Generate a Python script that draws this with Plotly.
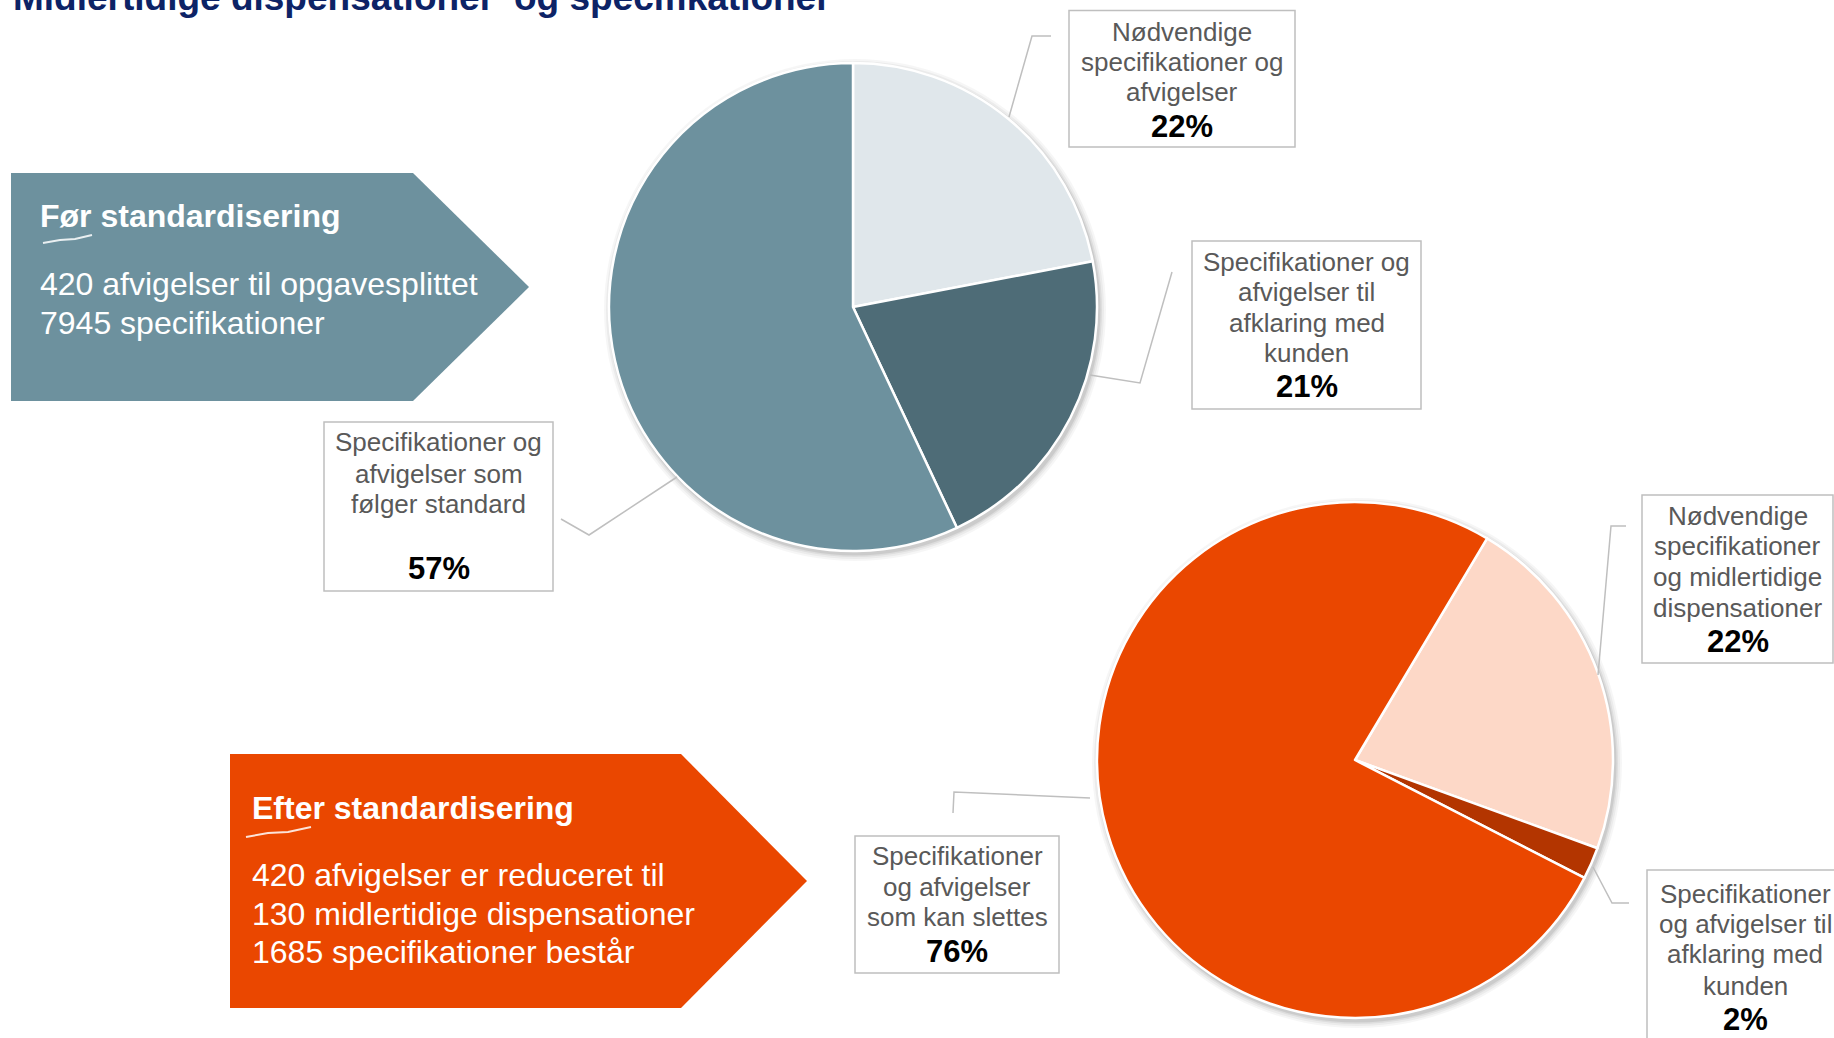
import plotly.graph_objects as go

W, H = 1834, 1038

# ---------------- data ----------------
title_text = "Midlertidige dispensationer\u2019 og specifikationer"

before_labels = ["Nødvendige specifikationer og afvigelser",
                 "Specifikationer og afvigelser til afklaring med kunden",
                 "Specifikationer og afvigelser som følger standard"]
before_values = [22, 21, 57]
before_colors = ["#E0E7EB", "#4E6C77", "#6D919E"]

after_labels = ["Nødvendige specifikationer og midlertidige dispensationer",
                "Specifikationer og afvigelser til afklaring med kunden",
                "Specifikationer og afvigelser som kan slettes"]
after_values = [22, 2, 76]
after_colors = ["#FDD8C7", "#B33500", "#EA4700"]

before_box_title = "Før standardisering"
before_box_lines = ["420 afvigelser til opgavesplittet", "7945 specifikationer"]
after_box_title = "Efter standardisering"
after_box_lines = ["420 afvigelser er reduceret til",
                   "130 midlertidige dispensationer",
                   "1685 specifikationer består"]

# label text lines (per slice)
before_label_lines = [["Nødvendige", "specifikationer og", "afvigelser"],
                      ["Specifikationer og", "afvigelser til", "afklaring med", "kunden"],
                      ["Specifikationer og", "afvigelser som", "følger standard"]]
after_label_lines = [["Nødvendige", "specifikationer", "og midlertidige", "dispensationer"],
                     ["Specifikationer", "og afvigelser til", "afklaring med", "kunden"],
                     ["Specifikationer", "og afvigelser", "som kan slettes"]]

FONT = "Liberation Sans, Arial, sans-serif"


def X(px):
    return px / W


def Y(py):
    return 1 - py / H


fig = go.Figure()
shapes = []
annotations = []

# ---------------- pies ----------------
pies = [
    dict(cx=853, cy=307, r=244, values=before_values, labels=before_labels,
         colors=before_colors, rotation=0),
    dict(cx=1355, cy=760, r=258, values=after_values, labels=after_labels,
         colors=after_colors, rotation=30.8),
]

for p in pies:
    # soft shadow
    for k, op in [(7, 0.035), (5, 0.045), (3, 0.06), (1.5, 0.08)]:
        shapes.append(dict(type="circle", xref="paper", yref="paper", layer="below",
                           x0=X(p["cx"] + 2 - p["r"] - k), x1=X(p["cx"] + 2 + p["r"] + k),
                           y0=Y(p["cy"] + 3 + p["r"] + k), y1=Y(p["cy"] + 3 - p["r"] - k),
                           fillcolor=f"rgba(0,0,0,{op})", line=dict(width=0)))
    fig.add_trace(go.Pie(
        values=p["values"], labels=p["labels"], sort=False, direction="clockwise",
        rotation=p["rotation"], textinfo="none", hoverinfo="label+percent",
        marker=dict(colors=p["colors"], line=dict(color="white", width=2.5)),
        domain=dict(x=[X(p["cx"] - p["r"]), X(p["cx"] + p["r"])],
                    y=[Y(p["cy"] + p["r"]), Y(p["cy"] - p["r"])]),
        showlegend=False,
    ))

# ---------------- arrow boxes ----------------
def arrow(x0, y0, xr, xt, y1, color):
    ym = (y0 + y1) / 2
    path = (f"M {X(x0)} {Y(y0)} L {X(xr)} {Y(y0)} L {X(xt)} {Y(ym)} "
            f"L {X(xr)} {Y(y1)} L {X(x0)} {Y(y1)} Z")
    shapes.append(dict(type="path", xref="paper", yref="paper", path=path,
                       fillcolor=color, line=dict(width=0), layer="below"))


arrow(11, 173, 413, 529, 401, before_colors[2])
arrow(230, 754, 681, 807, 1008, after_colors[2])


def text(x, y, s, size, color, bold=False, xanchor="center"):
    annotations.append(dict(xref="paper", yref="paper", x=X(x), y=Y(y),
                            text=f"<b>{s}</b>" if bold else s, showarrow=False,
                            xanchor=xanchor, yanchor="middle",
                            font=dict(family=FONT, size=size, color=color)))


text(38, 216, before_box_title, 32, "white", bold=True, xanchor="left")
for yy, s in zip([284, 323], before_box_lines):
    text(38, yy, s, 32, "white", xanchor="left")
text(250, 808, after_box_title, 32, "white", bold=True, xanchor="left")
for yy, s in zip([875, 913.5, 952], after_box_lines):
    text(250, yy, s, 32, "white", xanchor="left")

# spell-check squiggles
for pts in [[(43, 243), (60, 240), (75, 239), (92, 235)],
            [(246, 837), (268, 833), (288, 832), (311, 827)]]:
    path = "M " + " L ".join(f"{X(a)} {Y(b)}" for a, b in pts)
    shapes.append(dict(type="path", xref="paper", yref="paper", path=path,
                       line=dict(color="rgba(255,255,255,0.85)", width=2)))

# ---------------- title ----------------
text(11, -3, title_text, 37, "#0D2366", bold=True, xanchor="left")

# ---------------- label boxes ----------------
boxes = [
    # (rect, center x, line ys, pct y, leader points, lines, value)
    ((1069, 10.5, 1295, 147), 1182, [31.6, 62, 92.4], 126.3,
     [(1051, 36), (1032, 36), (1009, 117)], before_label_lines[0], before_values[0]),
    ((1192, 241, 1421, 409), 1306.5, [262, 292, 323, 353], 387,
     [(1172, 272), (1140, 383), (1090, 375)], before_label_lines[1], before_values[1]),
    ((324, 422, 553, 591), 438.5, [442, 474, 504], 568,
     [(561, 519), (589, 535), (677, 477)], before_label_lines[2], before_values[2]),
    ((1642, 495, 1833, 663), 1737.5, [516, 546, 577, 608], 641,
     [(1626, 526), (1611, 526), (1598, 675)], after_label_lines[0], after_values[0]),
    ((1647, 870, 1860, 1060), 1745, [893.6, 924, 954, 986], 1019,
     [(1629, 903), (1612, 903), (1593, 867)], after_label_lines[1], after_values[1]),
    ((855, 836, 1059, 973), 957, [856, 886.6, 917], 951,
     [(953, 813), (954, 792), (1090, 798)], after_label_lines[2], after_values[2]),
]

for rect, cx, ys, py, leader, lines, val in boxes:
    x0, y0, x1, y1 = rect
    shapes.append(dict(type="rect", xref="paper", yref="paper",
                       x0=X(x0), x1=X(x1), y0=Y(y1), y1=Y(y0),
                       fillcolor="white", line=dict(color="#BFBFBF", width=1.5)))
    path = "M " + " L ".join(f"{X(a)} {Y(b)}" for a, b in leader)
    shapes.append(dict(type="path", xref="paper", yref="paper", path=path,
                       line=dict(color="#BFBFBF", width=1.5)))
    for yy, s in zip(ys, lines):
        text(cx, yy, s, 26, "#595959")
    text(cx, py, f"{val}%", 31, "#000000", bold=True)

fig.update_layout(
    width=W, height=H, margin=dict(l=0, r=0, t=0, b=0),
    paper_bgcolor="white", plot_bgcolor="white",
    shapes=shapes, annotations=annotations,
    xaxis=dict(visible=False), yaxis=dict(visible=False),
)

fig.write_html("out.html", config={"displayModeBar": False},
               post_script="document.body.style.margin='0';document.body.style.overflow='hidden';")
